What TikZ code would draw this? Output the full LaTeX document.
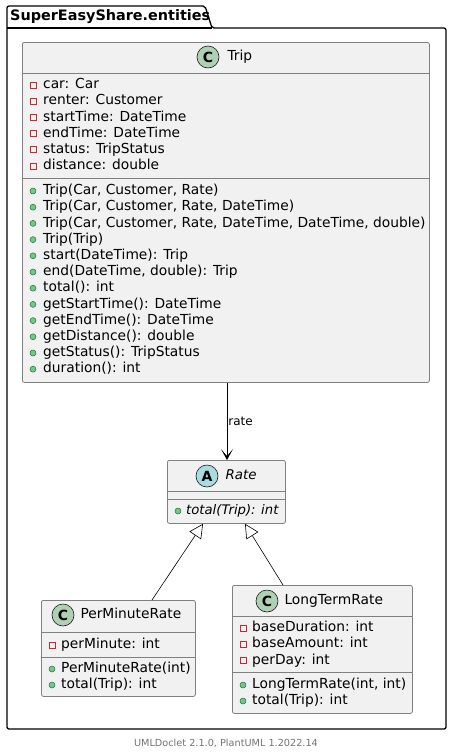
\documentclass[tikz,border=0pt]{standalone}
\usepackage{fontspec}
\setmainfont{DejaVu Sans}
\usepackage{tikz}
\usetikzlibrary{arrows.meta, calc, positioning}
\definecolor{boxfill}{HTML}{F1F1F1}
\definecolor{boxline}{HTML}{808080}
\definecolor{classC}{HTML}{ADD1B2}
\definecolor{classA}{HTML}{A9DCDF}
\definecolor{privred}{HTML}{C82930}
\definecolor{pubgreen}{HTML}{84BE84}
\definecolor{pubedge}{HTML}{038048}
\tikzstyle{classbox} = [rectangle, rounded corners=2pt, draw=boxline, fill=boxfill, line width=0.8pt, anchor=north west, inner sep=0pt]
\tikzstyle{sep} = [draw=boxline, line width=0.8pt]
\tikzstyle{member} = [anchor=west, inner sep=0pt, font=\fontsize{13.8}{16}\selectfont, text height=10pt, text depth=2.8pt]
\tikzstyle{spot} = [circle, draw=black!90, line width=0.6pt, minimum size=22pt, inner sep=0pt, font=\fontsize{14}{16}\selectfont\bfseries]
\tikzstyle{priv} = [rectangle, draw=privred, line width=0.8pt, minimum size=6pt, inner sep=0pt]
\tikzstyle{pub} = [circle, draw=pubedge, fill=pubgreen, line width=0.5pt, minimum size=6pt, inner sep=0pt]
\tikzstyle{assoc} = [line width=0.8pt, -{Stealth[length=11pt, width=12pt, inset=7pt]}]
\tikzstyle{inherit} = [line width=0.6pt, -{Triangle[open, length=14pt, width=14pt, fill=white]}]

\begin{document}
\begin{tikzpicture}[x=1pt, y=-1pt]
	\useasboundingbox (0,0) rectangle (452,753);
	% package
	\draw [line width=1.3pt, rounded corners=2pt] (7,28) -- (7,6) -- (205,6) -- (212,28) -- (446,28) -- (446,729) -- (7,729) -- cycle;
	\draw [line width=1.3pt] (7,28) -- (212,28);
	\node (Package) [anchor=west, inner sep=0pt, font=\fontsize{14.4}{16}\selectfont\bfseries] at (10,17) {SuperEasyShare.entities};

	% Trip
	\node (Trip) [classbox, minimum width=407pt, minimum height=340pt] at (22,42) {};
	\node (TripSpot) [spot, fill=classC] at (208,57) {C};
	\node (TripName) [member, right = 8pt of TripSpot] {Trip};
	\draw [sep] (22,73) -- (429,73);
	\draw [sep] (22,178) -- (429,178);
	\foreach \t [count=\i] in {car: Car, renter: Customer, startTime: DateTime, endTime: DateTime, status: TripStatus, distance: double} {
		\node (TripA\i icon) [priv] at (33,{85+16.2*(\i-1)}) {};
		\node (TripA\i) [member] at (43,{85+16.2*(\i-1)}) {\t};
	}
	\foreach \t [count=\i] in {{Trip(Car, Customer, Rate)}, {Trip(Car, Customer, Rate, DateTime)}, {Trip(Car, Customer, Rate, DateTime, DateTime, double)}, Trip(Trip), start(DateTime): Trip, {end(DateTime, double): Trip}, total(): int, getStartTime(): DateTime, getEndTime(): DateTime, getDistance(): double, getStatus(): TripStatus, duration(): int} {
		\node (TripM\i icon) [pub] at (33,{191+16.2*(\i-1)}) {};
		\node (TripM\i) [member] at (43,{191+16.2*(\i-1)}) {\t};
	}

	% Rate
	\node (Rate) [classbox, minimum width=118pt, minimum height=63pt] at (167,460) {};
	\node (RateSpot) [spot, fill=classA] at (207,476) {A};
	\node (RateName) [member, right = 7pt of RateSpot, font=\fontsize{13.4}{16}\selectfont\itshape] {Rate};
	\draw [sep] (167,491) -- (285,491);
	\draw [sep] (167,499) -- (285,499);
	\node (RateM1icon) [pub] at (178,511) {};
	\node (RateM1) [member, font=\fontsize{13.2}{16}\selectfont\itshape] at (186,511) {total(Trip): int};

	% PerMinuteRate
	\node (PerMinuteRate) [classbox, minimum width=154pt, minimum height=96pt] at (41,600) {};
	\node (PerMinuteSpot) [spot, fill=classC] at (63,615) {C};
	\node (PerMinuteName) [member, right = 6pt of PerMinuteSpot] {PerMinuteRate};
	\draw [sep] (41,632) -- (195,632);
	\draw [sep] (41,657) -- (195,657);
	\node (PerMinuteA1icon) [priv] at (52,645) {};
	\node (PerMinuteA1) [member] at (61,645) {perMinute: int};
	\node (PerMinuteM1icon) [pub] at (52,669) {};
	\node (PerMinuteM1) [member] at (61,669) {PerMinuteRate(int)};
	\node (PerMinuteM2icon) [pub] at (52,685) {};
	\node (PerMinuteM2) [member] at (61,685) {total(Trip): int};

	% LongTermRate
	\node (LongTermRate) [classbox, minimum width=180pt, minimum height=128pt] at (232,585) {};
	\node (LongTermSpot) [spot, fill=classC] at (267,601) {C};
	\node (LongTermName) [member, right = 6pt of LongTermSpot] {LongTermRate};
	\draw [sep] (232,616) -- (412,616);
	\draw [sep] (232,672) -- (412,672);
	\foreach \t [count=\i] in {baseDuration: int, baseAmount: int, perDay: int} {
		\node (LongTermA\i icon) [priv] at (243,{628+16.3*(\i-1)}) {};
		\node (LongTermA\i) [member] at (252,{628+16.3*(\i-1)}) {\t};
	}
	\node (LongTermM1icon) [pub] at (243,685) {};
	\node (LongTermM1) [member] at (252,685) {LongTermRate(int, int)};
	\node (LongTermM2icon) [pub] at (243,701) {};
	\node (LongTermM2) [member] at (252,701) {total(Trip): int};

	% relations
	\draw [assoc] (Trip.south -| 227,0) -- node[right, inner sep=1pt, font=\fontsize{12}{14}\selectfont]{rate} (Rate.north -| 227,0);
	\draw [inherit] (PerMinuteRate.north -| 152,0) -- (Rate.south -| 203,0);
	\draw [inherit] (LongTermRate.north -| 283,0) -- (Rate.south -| 245,0);

	\node (Footer) [text=black!55, font=\fontsize{9.7}{11}\selectfont] at (226,743) {UMLDoclet 2.1.0, PlantUML 1.2022.14};
\end{tikzpicture}
\end{document}
